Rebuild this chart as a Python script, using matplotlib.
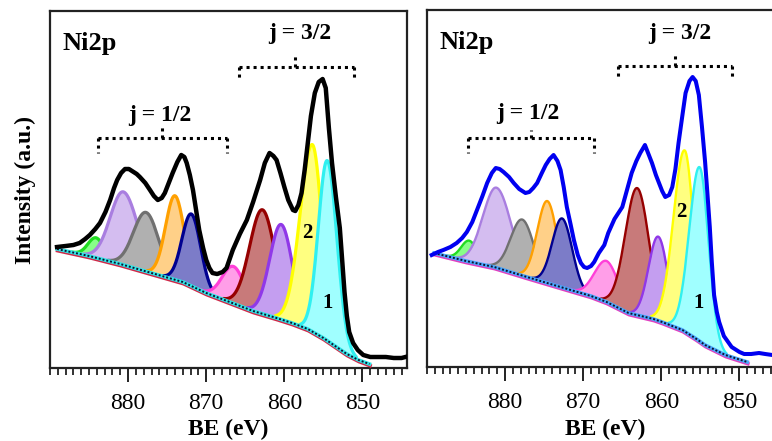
import numpy as np
import matplotlib
matplotlib.use('Agg')
import matplotlib.pyplot as plt
import matplotlib.patheffects as pe
from matplotlib.ticker import MultipleLocator

plt.rcParams['font.family'] = ['Liberation Serif', 'DejaVu Serif']

# ---- left panel: measured spectrum (BE in eV, intensity a.u.)
be_left = [889.1, 888.0, 887.0, 886.2, 885.5, 884.9, 884.2, 883.6, 882.9, 882.3,
           881.8, 881.4, 880.9, 880.4, 879.9, 879.5, 878.9, 878.5, 877.8, 877.2,
           876.7, 876.2, 875.7, 875.3, 874.8, 874.3, 873.7, 873.2, 872.8, 872.5,
           872.1, 871.7, 871.3, 870.9, 870.4, 870.0, 869.6, 869.2, 868.6, 867.9,
           867.4, 866.6, 865.7, 864.8, 864.0, 863.1, 862.5, 861.9, 861.4, 861.0,
           860.5, 860.0, 859.5, 858.9, 858.6, 858.2, 857.8, 857.4, 857.0, 856.6,
           856.1, 855.6, 855.1, 854.7, 854.3, 853.9, 853.4, 852.9, 852.6, 852.3,
           852.0, 851.7, 851.2, 850.6, 849.9, 849.0, 848.0, 847.0, 846.0, 845.0, 844.5]
int_left = [121, 122, 123, 125, 129, 133, 139, 145, 156, 168,
            180, 188, 195, 199, 199, 197, 194, 191, 185, 178,
            172, 168, 170, 175, 185, 195, 206, 213, 211, 205,
            193, 178, 158, 138, 120, 108, 100, 95, 94, 96,
            100, 118, 134, 148, 166, 188, 205, 215, 212, 208,
            195, 181, 168, 158, 157, 163, 175, 198, 225, 252,
            275, 286, 289, 280, 240, 205, 171, 140, 108, 76,
            52, 36, 25, 18, 13, 11, 11, 11, 10, 10, 11]
bg_be_left = [889.1, 885.0, 881.0, 877.0, 873.0, 870.0, 867.0, 864.0, 861.0,
              859.0, 857.0, 855.0, 853.5, 852.0, 850.5, 849.1]
bg_left = [119, 112, 104, 95, 86, 75, 66, 57, 50, 45, 39, 30, 22, 14, 8, 4]

# fitted components: centre, height above background, HWHM high-BE side, HWHM low-BE side
pk_c_left = [884.1, 880.6, 877.7, 874.0, 871.9, 866.5, 862.8, 860.4, 856.4, 854.5]
pk_h_left = [20, 73, 59, 84, 72, 37, 104, 95, 187, 180]
pk_wl_left = [1.2, 2.0, 1.9, 1.42, 1.4, 1.7, 1.95, 1.72, 1.85, 1.35]
pk_wr_left = [1.2, 2.15, 1.9, 1.42, 1.4, 1.7, 1.95, 1.72, 1.45, 1.45]

# ---- right panel
be_right = [889.4, 888.6, 887.9, 887.0, 886.2, 885.5, 884.9, 884.2, 883.6, 882.9,
            882.3, 881.7, 881.2, 880.7, 880.2, 879.5, 878.9, 878.2, 877.4, 876.9,
            876.4, 875.9, 875.3, 874.8, 874.3, 873.8, 873.3, 872.9, 872.5, 872.1,
            871.6, 871.2, 870.7, 870.3, 869.9, 869.5, 869.0, 868.6, 868.0, 867.3,
            866.8, 866.0, 865.0, 864.4, 863.8, 863.2, 862.7, 862.1, 861.7, 861.2,
            860.7, 860.3, 859.9, 859.5, 859.0, 858.6, 858.2, 857.8, 857.3, 856.9,
            856.4, 856.0, 855.6, 855.2, 854.8, 854.4, 854.1, 853.8, 853.55, 853.25,
            852.9, 852.6, 852.0, 851.0, 850.0, 849.4, 848.5, 847.5, 846.7, 845.8]
int_right = [112, 115, 117, 120, 124, 129, 135, 145, 157, 171,
             184, 194, 199, 198, 195, 190, 184, 178, 174, 175,
             179, 184, 194, 202, 208, 212, 206, 197, 180, 160,
             142, 127, 112, 104, 100, 99, 101, 105, 114, 122,
             134, 148, 160, 177, 194, 206, 214, 222, 214, 204,
             192, 184, 176, 170, 172, 180, 198, 224, 252, 274,
             286, 290, 286, 272, 240, 205, 173, 140, 106, 72,
             55, 45, 31, 20, 15, 13, 13, 14, 13, 12]
bg_be_right = [889.1, 885.0, 881.4, 877.2, 872.9, 869.0, 867.0, 864.2, 861.0,
               859.9, 857.3, 855.5, 854.4, 851.8, 849.0]
bg_right = [114, 106, 100, 90, 80, 71, 65, 54, 48, 45, 37, 28, 22, 12, 5]

pk_c_right = [884.6, 881.1, 877.8, 874.6, 872.7, 867.0, 863.1, 860.4, 857.0, 855.1]
pk_h_right = [21, 80, 56, 82, 69, 41, 127, 84, 181, 174]
pk_wl_right = [1.2, 2.05, 1.75, 1.5, 1.5, 1.8, 1.8, 1.45, 1.7, 1.55]
pk_wr_right = [1.2, 2.2, 1.75, 1.5, 1.5, 1.8, 1.8, 1.45, 1.35, 1.35]

pk_fill = ['#88ff88', '#d4bdf0', '#b0b0b0', '#ffd088', '#7c7cc8',
           '#ff9ee8', '#c87a7a', '#c49ef0', '#ffff80', '#a0ffff']
pk_edge = ['#22dd22', '#a97ee0', '#707070', '#ffa000', '#000090',
           '#ff40d8', '#960000', '#9038e8', '#ffff00', '#30f0f0']

xticks = [880, 870, 860, 850]


def comp(x, c, h, wl, wr):
    w = np.where(x >= c, wl, wr)
    return h * np.exp(-np.log(2) * ((x - c) / w) ** 2)


def draw_panel(ax, be, inten, bg_be, bg, pc, ph, pwl, pwr, data_color, bg_color,
               shadow_color, edge_lw, data_lw):
    bx = np.array(bg_be[::-1])
    by = np.array(bg[::-1])
    x = np.linspace(bx[0], bx[-1], 900)
    base = np.interp(x, bx, by)
    for i in range(len(pc)):
        y = comp(x, pc[i], ph[i], pwl[i], pwr[i])
        m = y > 0.01 * ph[i]
        ax.fill_between(x[m], base[m], base[m] + y[m], color=pk_fill[i],
                        lw=0, zorder=2 + i)
        ax.plot(x[m], base[m] + y[m], color=pk_edge[i], lw=edge_lw,
                zorder=2 + i, solid_capstyle='round')
    ax.plot(bg_be, bg, color=bg_color, lw=2.6, zorder=20,
            path_effects=[pe.SimpleLineShadow(offset=(0.4, -1.2),
                                              shadow_color=shadow_color,
                                              alpha=1, rho=1),
                          pe.Normal()])
    ax.plot(bg_be, bg, color='#101030', lw=1.4, dashes=(1.0, 1.0), zorder=21)
    ax.plot(be, inten, color=data_color, lw=data_lw, zorder=25,
            solid_joinstyle='round')


def bracket(ax, x0, x1, xc, yh, yend, ytop):
    kw = dict(color='black', lw=2.2, dashes=(1.0, 1.3), zorder=30)
    ax.plot([x0, x1], [yh, yh], **kw)
    ax.plot([x0, x0], [yh, yend], **kw)
    ax.plot([x1, x1], [yh, yend], **kw)
    ax.plot([xc, xc], [yh, ytop], **kw)


fig = plt.figure(figsize=(7.72, 4.41), dpi=100)
ax1 = fig.add_axes([50 / 772, 73 / 441, 357 / 772, 357 / 441])
ax2 = fig.add_axes([427 / 772, 74 / 441, 357 / 772, 357 / 441])

draw_panel(ax1, be_left, int_left, bg_be_left, bg_left, pk_c_left, pk_h_left,
           pk_wl_left, pk_wr_left, 'black', '#30e8e8', '#d02848', 2.3, 3.2)
draw_panel(ax2, be_right, int_right, bg_be_right, bg_right, pk_c_right, pk_h_right,
           pk_wl_right, pk_wr_right, '#0000f0', '#4aa8ff', '#e040c0', 1.7, 2.9)

for ax in (ax1, ax2):
    ax.set_xlim(890.0, 844.3)
    ax.set_ylim(0, 357)
    ax.set_yticks([])
    ax.set_xticks(xticks)
    ax.set_xticklabels([str(t) for t in xticks])
    ax.xaxis.set_minor_locator(MultipleLocator(1))
    ax.tick_params(axis='x', which='major', length=10, width=1.4, direction='out',
                   labelsize=17, pad=8, color='#222222')
    ax.tick_params(axis='x', which='minor', length=5, width=1.3, direction='out',
                   color='#222222')
    for s in ax.spines.values():
        s.set_linewidth(1.6)
        s.set_color('#222222')
    ax.text(888.4, 318, 'Ni2p', fontsize=19, fontweight='bold', ha='left',
            va='baseline', zorder=40)

bracket(ax1, 865.8, 851.1, 858.6, 301, 288, 313)
bracket(ax1, 883.8, 867.4, 875.7, 230, 215, 243)
bracket(ax2, 865.5, 850.9, 858.3, 301, 288, 314)
bracket(ax2, 884.7, 868.6, 876.7, 229, 214, 237)

ax1.text(858.0, 335, 'j = 3/2', fontsize=17, fontweight='bold', ha='center',
         va='center', zorder=40)
ax1.text(876.0, 253, 'j = 1/2', fontsize=17, fontweight='bold', ha='center',
         va='center', zorder=40)
ax2.text(857.6, 334, 'j = 3/2', fontsize=17, fontweight='bold', ha='center',
         va='center', zorder=40)
ax2.text(877.1, 254, 'j = 1/2', fontsize=17, fontweight='bold', ha='center',
         va='center', zorder=40)

ax1.text(857.1, 135, '2', fontsize=15, fontweight='bold', ha='center', va='center', zorder=40)
ax1.text(854.5, 65, '1', fontsize=15, fontweight='bold', ha='center', va='center', zorder=40)
ax2.text(857.4, 155, '2', fontsize=15, fontweight='bold', ha='center', va='center', zorder=40)
ax2.text(855.2, 64, '1', fontsize=15, fontweight='bold', ha='center', va='center', zorder=40)

fig.text(228.5 / 772, 0.013, 'BE (eV)', fontsize=17, fontweight='bold',
         ha='center', va='baseline')
fig.text(605.5 / 772, 0.013, 'BE (eV)', fontsize=17, fontweight='bold',
         ha='center', va='baseline')
fig.text(25 / 772, 0.57, 'Intensity (a.u.)', fontsize=17, fontweight='bold',
         rotation=90, ha='center', va='center')

fig.savefig('out.png', dpi=100)
